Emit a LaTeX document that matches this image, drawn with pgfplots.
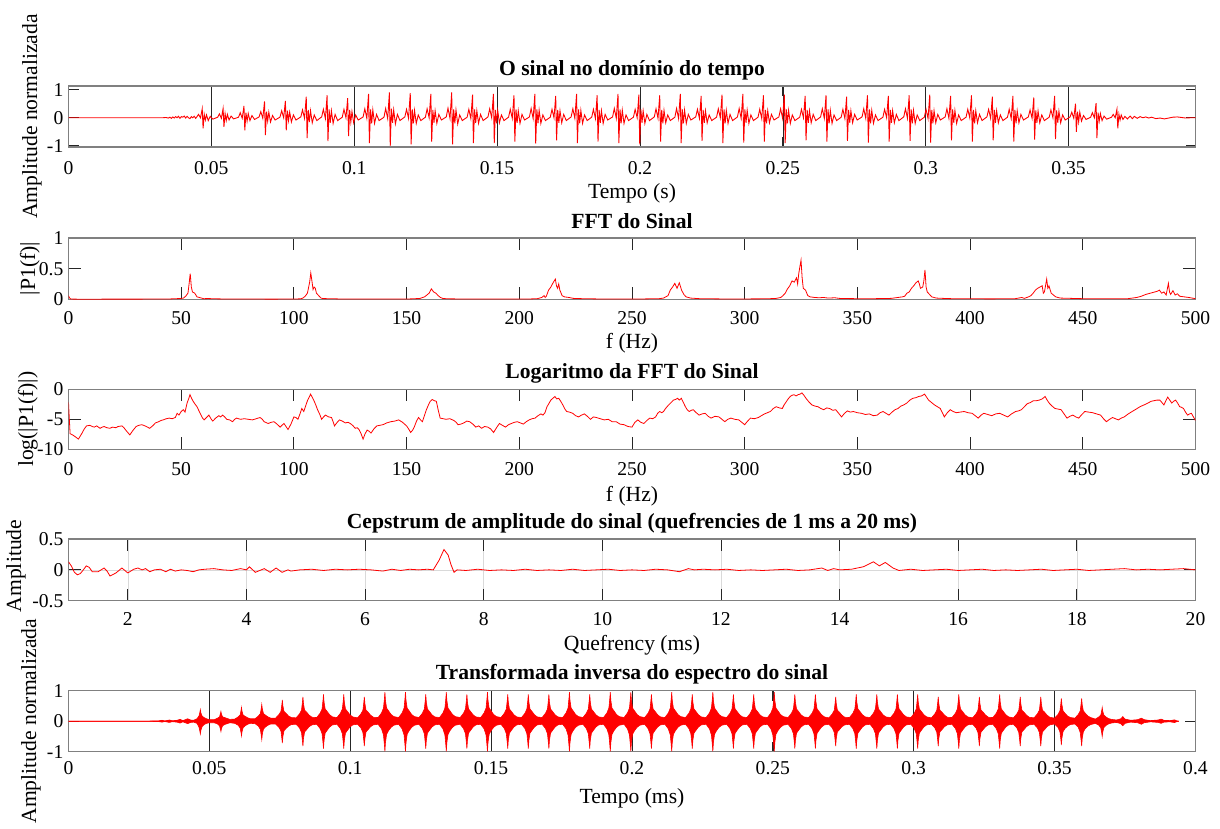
\documentclass[border=0pt]{standalone}
\usepackage{fontspec}
\setmainfont{Liberation Serif}
\usepackage{pgfplots}
\usepackage{pgfplotstable}
\pgfplotsset{compat=1.18}

\definecolor{boxgray}{RGB}{128,128,128}
\definecolor{sigred}{RGB}{255,0,0}

\newcommand\tickfont{\fontsize{19.6}{22}\selectfont}
\newcommand\labfont{\fontsize{21.6}{24}\selectfont}
\newcommand\titfont{\fontsize{21.6}{24}\selectfont\bfseries}

\pgfplotsset{
  panel/.style={
    scale only axis, width=1127pt, anchor=south west,
    axis line style={draw=boxgray, line width=1.4pt},
    tick style={draw=black!85, line width=0.8pt},
    major tick length=10pt, tick align=inside,
    xtick pos=both, ytick pos=both,
    tick label style={font=\tickfont},
    yticklabel style={inner sep=0pt, anchor=east, xshift=-5pt},
    xticklabel style={inner sep=0pt, anchor=north},
    xlabel={}, ylabel={},
  },
}

% inverse transform: time (ms), upper envelope, lower envelope
\pgfplotstableread{
x up lo
0 0.003 -0.003
28 0.003 -0.003
30 0.008 -0.008
32 0.012 -0.012
33.2 0.03 -0.03
34.2 0.01 -0.01
35.8 0.04 -0.04
36.8 0.015 -0.015
38.5 0.03 -0.03
39.6 0.06 -0.06
40.6 0.02 -0.02
42.3 0.08 -0.08
43.3 0.04 -0.04
44.4 0.03 -0.03
45.6 0.08 -0.07
46.3 0.17 -0.19
46.65 0.30 -0.34
46.8 0.38 -0.42
47.0 0.27 -0.29
47.4 0.17 -0.18
48.1 0.12 -0.11
49.0 0.08 -0.07
50.0 0.05 -0.05
51.7 0.05 -0.05
52.9 0.10 -0.09
53.6 0.14 -0.15
53.95 0.26 -0.27
54.1 0.32 -0.34
54.3 0.23 -0.24
54.7 0.14 -0.15
55.4 0.12 -0.11
56.3 0.09 -0.08
57.3 0.06 -0.05
59.0 0.07 -0.07
60.2 0.14 -0.13
60.9 0.20 -0.22
61.25 0.36 -0.38
61.4 0.45 -0.48
61.6 0.32 -0.34
62.0 0.20 -0.21
62.7 0.16 -0.15
63.6 0.11 -0.10
64.6 0.08 -0.07
66.2 0.08 -0.08
67.4 0.17 -0.16
68.1 0.25 -0.27
68.45 0.44 -0.48
68.6 0.55 -0.60
68.8 0.40 -0.42
69.2 0.25 -0.26
69.9 0.20 -0.19
70.8 0.14 -0.13
71.8 0.10 -0.09
73.5 0.10 -0.09
74.7 0.22 -0.20
75.4 0.32 -0.32
75.75 0.56 -0.58
75.9 0.70 -0.72
76.1 0.50 -0.50
76.5 0.32 -0.31
77.2 0.26 -0.24
78.1 0.17 -0.16
79.1 0.12 -0.11
80.8 0.11 -0.10
82.0 0.24 -0.22
82.7 0.36 -0.37
83.05 0.64 -0.66
83.2 0.80 -0.82
83.4 0.58 -0.57
83.8 0.36 -0.35
84.5 0.30 -0.28
85.4 0.20 -0.18
86.4 0.13 -0.12
88.1 0.12 -0.10
89.3 0.26 -0.24
90.0 0.40 -0.41
90.35 0.70 -0.72
90.5 0.88 -0.90
90.7 0.63 -0.63
91.1 0.40 -0.39
91.8 0.32 -0.30
92.7 0.21 -0.19
93.7 0.14 -0.12
95.3 0.12 -0.10
96.5 0.26 -0.24
97.2 0.40 -0.41
97.55 0.70 -0.72
97.7 0.88 -0.90
97.9 0.63 -0.63
98.3 0.40 -0.39
99.0 0.32 -0.30
99.9 0.21 -0.19
100.9 0.14 -0.12
102.6 0.11 -0.10
103.8 0.24 -0.22
104.5 0.36 -0.37
104.85 0.64 -0.66
105.0 0.80 -0.82
105.2 0.58 -0.57
105.6 0.36 -0.35
106.3 0.30 -0.28
107.2 0.20 -0.18
108.2 0.13 -0.12
109.9 0.12 -0.10
111.1 0.27 -0.25
111.8 0.43 -0.45
112.15 0.76 -0.80
112.3 0.95 -0.99
112.5 0.68 -0.70
112.9 0.43 -0.43
113.6 0.34 -0.31
114.5 0.22 -0.20
115.5 0.15 -0.13
117.2 0.12 -0.10
118.4 0.27 -0.25
119.1 0.43 -0.45
119.45 0.76 -0.80
119.6 0.95 -0.99
119.8 0.68 -0.70
120.2 0.43 -0.43
120.9 0.34 -0.31
121.8 0.22 -0.20
122.8 0.15 -0.13
124.4 0.12 -0.10
125.6 0.26 -0.24
126.3 0.40 -0.41
126.65 0.70 -0.72
126.8 0.88 -0.90
127.0 0.63 -0.63
127.4 0.40 -0.39
128.1 0.32 -0.30
129.0 0.21 -0.19
130.0 0.14 -0.12
131.7 0.12 -0.10
132.9 0.27 -0.25
133.6 0.43 -0.45
133.95 0.76 -0.80
134.1 0.95 -0.99
134.3 0.68 -0.70
134.7 0.43 -0.43
135.4 0.34 -0.31
136.3 0.22 -0.20
137.3 0.15 -0.13
139.0 0.12 -0.10
140.2 0.26 -0.24
140.9 0.40 -0.41
141.25 0.70 -0.72
141.4 0.88 -0.90
141.6 0.63 -0.63
142.0 0.40 -0.39
142.7 0.32 -0.30
143.6 0.21 -0.19
144.6 0.14 -0.12
146.3 0.12 -0.10
147.5 0.27 -0.25
148.2 0.43 -0.45
148.55 0.76 -0.80
148.7 0.95 -0.99
148.9 0.68 -0.70
149.3 0.43 -0.43
150.0 0.34 -0.31
150.9 0.22 -0.20
151.9 0.15 -0.13
153.5 0.12 -0.10
154.7 0.26 -0.24
155.4 0.40 -0.41
155.75 0.70 -0.72
155.9 0.88 -0.90
156.1 0.63 -0.63
156.5 0.40 -0.39
157.2 0.32 -0.30
158.1 0.21 -0.19
159.1 0.14 -0.12
160.8 0.12 -0.10
162.0 0.26 -0.24
162.7 0.40 -0.41
163.05 0.70 -0.72
163.2 0.88 -0.90
163.4 0.63 -0.63
163.8 0.40 -0.39
164.5 0.32 -0.30
165.4 0.21 -0.19
166.4 0.14 -0.12
168.1 0.12 -0.10
169.3 0.26 -0.24
170.0 0.40 -0.41
170.35 0.70 -0.72
170.5 0.88 -0.90
170.7 0.63 -0.63
171.1 0.40 -0.39
171.8 0.32 -0.30
172.7 0.21 -0.19
173.7 0.14 -0.12
175.4 0.12 -0.10
176.6 0.27 -0.25
177.3 0.43 -0.45
177.65 0.76 -0.80
177.8 0.95 -0.99
178.0 0.68 -0.70
178.4 0.43 -0.43
179.1 0.34 -0.31
180.0 0.22 -0.20
181.0 0.15 -0.13
182.6 0.12 -0.10
183.8 0.26 -0.24
184.5 0.40 -0.41
184.85 0.70 -0.72
185.0 0.88 -0.90
185.2 0.63 -0.63
185.6 0.40 -0.39
186.3 0.32 -0.30
187.2 0.21 -0.19
188.2 0.14 -0.12
189.9 0.12 -0.10
191.1 0.27 -0.25
191.8 0.43 -0.45
192.15 0.76 -0.80
192.3 0.95 -0.99
192.5 0.68 -0.70
192.9 0.43 -0.43
193.6 0.34 -0.31
194.5 0.22 -0.20
195.5 0.15 -0.13
197.2 0.12 -0.10
198.4 0.27 -0.25
199.1 0.43 -0.45
199.45 0.76 -0.80
199.6 0.95 -0.99
199.8 0.68 -0.70
200.2 0.43 -0.43
200.9 0.34 -0.31
201.8 0.22 -0.20
202.8 0.15 -0.13
204.5 0.12 -0.10
205.7 0.26 -0.24
206.4 0.40 -0.41
206.75 0.70 -0.72
206.9 0.88 -0.90
207.1 0.63 -0.63
207.5 0.40 -0.39
208.2 0.32 -0.30
209.1 0.21 -0.19
210.1 0.14 -0.12
211.7 0.12 -0.10
212.9 0.27 -0.25
213.6 0.43 -0.45
213.95 0.76 -0.80
214.1 0.95 -0.99
214.3 0.68 -0.70
214.7 0.43 -0.43
215.4 0.34 -0.31
216.3 0.22 -0.20
217.3 0.15 -0.13
219.0 0.12 -0.10
220.2 0.26 -0.24
220.9 0.40 -0.41
221.25 0.70 -0.72
221.4 0.88 -0.90
221.6 0.63 -0.63
222.0 0.40 -0.39
222.7 0.32 -0.30
223.6 0.21 -0.19
224.6 0.14 -0.12
226.3 0.12 -0.10
227.5 0.27 -0.25
228.2 0.43 -0.45
228.55 0.76 -0.80
228.7 0.95 -0.99
228.9 0.68 -0.70
229.3 0.43 -0.43
230.0 0.34 -0.31
230.9 0.22 -0.20
231.9 0.15 -0.13
233.6 0.12 -0.10
234.8 0.26 -0.24
235.5 0.40 -0.41
235.85 0.70 -0.72
236.0 0.88 -0.90
236.2 0.63 -0.63
236.6 0.40 -0.39
237.3 0.32 -0.30
238.2 0.21 -0.19
239.2 0.14 -0.12
240.8 0.12 -0.10
242.0 0.26 -0.24
242.7 0.40 -0.41
243.05 0.70 -0.72
243.2 0.88 -0.90
243.4 0.63 -0.63
243.8 0.40 -0.39
244.5 0.32 -0.30
245.4 0.21 -0.19
246.4 0.14 -0.12
248.1 0.12 -0.10
249.3 0.27 -0.25
250.0 0.43 -0.45
250.35 0.76 -0.80
250.5 0.95 -0.99
250.7 0.68 -0.70
251.1 0.43 -0.43
251.8 0.34 -0.31
252.7 0.22 -0.20
253.7 0.15 -0.13
255.4 0.12 -0.10
256.6 0.26 -0.24
257.3 0.40 -0.41
257.65 0.70 -0.72
257.8 0.88 -0.90
258.0 0.63 -0.63
258.4 0.40 -0.39
259.1 0.32 -0.30
260.0 0.21 -0.19
261.0 0.14 -0.12
262.7 0.12 -0.10
263.9 0.26 -0.24
264.6 0.40 -0.41
264.95 0.70 -0.72
265.1 0.88 -0.90
265.3 0.63 -0.63
265.7 0.40 -0.39
266.4 0.32 -0.30
267.3 0.21 -0.19
268.3 0.14 -0.12
269.9 0.11 -0.10
271.1 0.24 -0.22
271.8 0.36 -0.37
272.15 0.64 -0.66
272.3 0.80 -0.82
272.5 0.58 -0.57
272.9 0.36 -0.35
273.6 0.30 -0.28
274.5 0.20 -0.18
275.5 0.13 -0.12
277.2 0.12 -0.10
278.4 0.26 -0.24
279.1 0.40 -0.41
279.45 0.70 -0.72
279.6 0.88 -0.90
279.8 0.63 -0.63
280.2 0.40 -0.39
280.9 0.32 -0.30
281.8 0.21 -0.19
282.8 0.14 -0.12
284.5 0.12 -0.10
285.7 0.26 -0.24
286.4 0.40 -0.41
286.75 0.70 -0.72
286.9 0.88 -0.90
287.1 0.63 -0.63
287.5 0.40 -0.39
288.2 0.32 -0.30
289.1 0.21 -0.19
290.1 0.14 -0.12
291.8 0.12 -0.10
293.0 0.26 -0.24
293.7 0.40 -0.41
294.05 0.70 -0.72
294.2 0.88 -0.90
294.4 0.63 -0.63
294.8 0.40 -0.39
295.5 0.32 -0.30
296.4 0.21 -0.19
297.4 0.14 -0.12
299.0 0.12 -0.10
300.2 0.26 -0.24
300.9 0.40 -0.41
301.25 0.70 -0.72
301.4 0.88 -0.90
301.6 0.63 -0.63
302.0 0.40 -0.39
302.7 0.32 -0.30
303.6 0.21 -0.19
304.6 0.14 -0.12
306.3 0.11 -0.10
307.5 0.24 -0.22
308.2 0.36 -0.37
308.55 0.64 -0.66
308.7 0.80 -0.82
308.9 0.58 -0.57
309.3 0.36 -0.35
310.0 0.30 -0.28
310.9 0.20 -0.18
311.9 0.13 -0.12
313.6 0.12 -0.10
314.8 0.26 -0.24
315.5 0.40 -0.41
315.85 0.70 -0.72
316.0 0.88 -0.90
316.2 0.63 -0.63
316.6 0.40 -0.39
317.3 0.32 -0.30
318.2 0.21 -0.19
319.2 0.14 -0.12
320.9 0.11 -0.10
322.1 0.24 -0.22
322.8 0.36 -0.37
323.15 0.64 -0.66
323.3 0.80 -0.82
323.5 0.58 -0.57
323.9 0.36 -0.35
324.6 0.30 -0.28
325.5 0.20 -0.18
326.5 0.13 -0.12
328.1 0.12 -0.10
329.3 0.26 -0.24
330.0 0.40 -0.41
330.35 0.70 -0.72
330.5 0.88 -0.90
330.7 0.63 -0.63
331.1 0.40 -0.39
331.8 0.32 -0.30
332.7 0.21 -0.19
333.7 0.14 -0.12
335.4 0.11 -0.10
336.6 0.24 -0.22
337.3 0.36 -0.37
337.65 0.64 -0.66
337.8 0.80 -0.82
338.0 0.58 -0.57
338.4 0.36 -0.35
339.1 0.30 -0.28
340.0 0.20 -0.18
341.0 0.13 -0.12
342.7 0.11 -0.10
343.9 0.24 -0.22
344.6 0.36 -0.37
344.95 0.64 -0.66
345.1 0.80 -0.82
345.3 0.58 -0.57
345.7 0.36 -0.35
346.4 0.30 -0.28
347.3 0.20 -0.18
348.3 0.13 -0.12
350.0 0.10 -0.09
351.2 0.22 -0.20
351.9 0.34 -0.35
352.25 0.60 -0.62
352.4 0.75 -0.78
352.6 0.54 -0.55
353.0 0.34 -0.34
353.7 0.26 -0.24
354.6 0.17 -0.16
355.6 0.12 -0.11
357.2 0.10 -0.09
358.4 0.22 -0.20
359.1 0.34 -0.37
359.45 0.60 -0.66
359.6 0.75 -0.82
359.8 0.54 -0.57
360.2 0.34 -0.35
360.9 0.26 -0.24
361.8 0.17 -0.16
362.8 0.12 -0.11
364.5 0.07 -0.07
365.7 0.14 -0.13
366.4 0.20 -0.22
366.75 0.36 -0.40
366.9 0.45 -0.50
367.1 0.32 -0.35
367.5 0.20 -0.21
368.2 0.14 -0.14
369.1 0.09 -0.09
370.1 0.06 -0.06
372.0 0.04 -0.04
373.5 0.08 -0.08
374.2 0.15 -0.15
375.0 0.07 -0.07
377.0 0.03 -0.03
379.5 0.05 -0.05
380.8 0.10 -0.10
381.8 0.05 -0.05
384.0 0.02 -0.02
386.8 0.04 -0.04
387.8 0.07 -0.07
388.8 0.03 -0.03
391.0 0.02 -0.02
392.6 0.045 -0.045
393.4 0.01 -0.01
394.0 0.003 -0.003
}\invdata

\begin{document}
\begin{tikzpicture}
\useasboundingbox (0pt,0pt) rectangle (1220pt,-829pt);

% ---------- time signal ----------
\begin{axis}[panel, at={(68.5pt,-147pt)}, height=61pt,
  xmin=0, xmax=394.4, ymin=-1.04, ymax=1.13,
  xtick={0,50,100,150,200,250,300,350},
  xticklabels={0,0.05,0.1,0.15,0.2,0.25,0.3,0.35},
  ytick={-1,0,1}, yticklabels={-1,0,1},
  xticklabel style={yshift=-14.5pt},
  xmajorgrids, grid style={draw=black!85, line width=0.7pt}]
\addplot[sigred, line width=0.9pt] coordinates {
(0,0)(33,0)(34,0.01)(35,-0.01)(35.5,0.02)(36,-0.02)(36.5,0.03)(37,-0.01)(37.5,0.04)(38,0.0)(38.5,0.05)(39,-0.02)(39.5,0.04)(40,0.02)(40.5,0.06)(41,-0.01)(41.5,0.05)(42,0.0)(42.5,-0.03)(43,0.04)(43.5,0.0)(44,0.05)(44.5,-0.02)
(44.9,0.03)(45.5,0.12)(46.2,0.0)(46.8,0.32)(47.1,-0.38)(47.5,0.12)(47.9,-0.08)(48.3,0.1)(48.9,-0.1)(49.6,0.05)(50.5,-0.05)
(52.2,0.02)(52.8,0.14)(53.5,-0.02)(54.1,0.33)(54.4,-0.32)(54.8,0.15)(55.2,-0.1)(55.6,0.12)(56.2,-0.08)(56.9,0.06)(57.8,-0.04)
(59.5,0.02)(60.1,0.18)(60.8,-0.02)(61.4,0.42)(61.7,-0.45)(62.1,0.18)(62.5,-0.12)(62.9,0.15)(63.5,-0.1)(64.2,0.08)(65.1,-0.06)
(66.7,0.03)(67.3,0.22)(68.0,-0.02)(68.6,0.58)(68.9,-0.62)(69.3,0.22)(69.7,-0.12)(70.1,0.2)(70.7,-0.15)(71.4,0.08)(72.3,-0.08)
(74.0,0.02)(74.6,0.25)(75.3,0.0)(75.9,0.6)(76.2,-0.45)(76.6,0.25)(77.0,-0.1)(77.4,0.2)(78.0,-0.15)(78.7,0.1)(79.6,-0.08)
(81.3,0.03)(81.9,0.28)(82.6,-0.02)(83.2,0.75)(83.5,-0.72)(83.9,0.28)(84.3,-0.15)(84.7,0.25)(85.3,-0.18)(86.0,0.1)(86.9,-0.1)
(88.6,0.03)(89.2,0.3)(89.9,-0.03)(90.5,0.8)(90.8,-0.83)(91.2,0.3)(91.6,-0.18)(92.0,0.25)(92.6,-0.2)(93.3,0.12)(94.2,-0.1)
(95.8,0.02)(96.4,0.3)(97.1,0.0)(97.7,0.7)(98.0,-0.65)(98.4,0.28)(98.8,-0.15)(99.2,0.22)(99.8,-0.18)(100.5,0.1)(101.4,-0.08)
(103.1,0.03)(103.7,0.32)(104.4,-0.02)(105.0,0.85)(105.3,-0.9)(105.7,0.3)(106.1,-0.2)(106.5,0.28)(107.1,-0.2)(107.8,0.12)(108.7,-0.1)
(110.4,0.02)(111.0,0.33)(111.7,-0.03)(112.3,0.9)(112.6,-1.0)(113.0,0.32)(113.4,-0.18)(113.8,0.28)(114.4,-0.22)(115.1,0.12)(116.0,-0.1)
(117.7,0.03)(118.3,0.3)(119.0,-0.02)(119.6,0.88)(119.9,-0.95)(120.3,0.3)(120.7,-0.2)(121.1,0.26)(121.7,-0.2)(122.4,0.1)(123.3,-0.1)
(124.9,0.02)(125.5,0.32)(126.2,0.0)(126.8,0.85)(127.1,-0.85)(127.5,0.28)(127.9,-0.18)(128.3,0.25)(128.9,-0.2)(129.6,0.12)(130.5,-0.08)
(132.2,0.03)(132.8,0.34)(133.5,-0.02)(134.1,0.9)(134.4,-0.95)(134.8,0.3)(135.2,-0.2)(135.6,0.28)(136.2,-0.22)(136.9,0.1)(137.8,-0.1)
(139.5,0.02)(140.1,0.3)(140.8,-0.03)(141.4,0.82)(141.7,-0.9)(142.1,0.3)(142.5,-0.18)(142.9,0.25)(143.5,-0.2)(144.2,0.12)(145.1,-0.1)
(146.8,0.03)(147.4,0.32)(148.1,0.0)(148.7,0.85)(149.0,-0.9)(149.4,0.28)(149.8,-0.2)(150.2,0.26)(150.8,-0.18)(151.5,0.1)(152.4,-0.1)
(154.0,0.02)(154.6,0.3)(155.3,-0.02)(155.9,0.8)(156.2,-0.85)(156.6,0.3)(157.0,-0.18)(157.4,0.25)(158.0,-0.2)(158.7,0.12)(159.6,-0.08)
(161.3,0.03)(161.9,0.33)(162.6,-0.03)(163.2,0.85)(163.5,-0.92)(163.9,0.3)(164.3,-0.2)(164.7,0.27)(165.3,-0.2)(166.0,0.1)(166.9,-0.1)
(168.6,0.02)(169.2,0.3)(169.9,0.0)(170.5,0.78)(170.8,-0.8)(171.2,0.28)(171.6,-0.18)(172.0,0.25)(172.6,-0.18)(173.3,0.12)(174.2,-0.1)
(175.9,0.03)(176.5,0.32)(177.2,-0.02)(177.8,0.85)(178.1,-0.9)(178.5,0.3)(178.9,-0.2)(179.3,0.26)(179.9,-0.2)(180.6,0.1)(181.5,-0.1)
(183.1,0.02)(183.7,0.3)(184.4,-0.03)(185.0,0.8)(185.3,-0.85)(185.7,0.28)(186.1,-0.18)(186.5,0.25)(187.1,-0.2)(187.8,0.12)(188.7,-0.08)
(190.4,0.03)(191.0,0.33)(191.7,-0.02)(192.3,0.85)(192.6,-0.9)(193.0,0.3)(193.4,-0.2)(193.8,0.27)(194.4,-0.2)(195.1,0.1)(196.0,-0.1)
(197.7,0.02)(198.3,0.3)(199.0,0.0)(199.6,0.82)(199.9,-0.95)(200.3,0.3)(200.7,-0.18)(201.1,0.25)(201.7,-0.2)(202.4,0.12)(203.3,-0.1)
(205.0,0.03)(205.6,0.32)(206.3,-0.02)(206.9,0.8)(207.2,-0.85)(207.6,0.28)(208.0,-0.2)(208.4,0.26)(209.0,-0.18)(209.7,0.1)(210.6,-0.1)
(212.2,0.02)(212.8,0.33)(213.5,-0.03)(214.1,0.85)(214.4,-0.9)(214.8,0.3)(215.2,-0.2)(215.6,0.27)(216.2,-0.2)(216.9,0.12)(217.8,-0.08)
(219.5,0.03)(220.1,0.3)(220.8,-0.02)(221.4,0.78)(221.7,-0.82)(222.1,0.28)(222.5,-0.18)(222.9,0.25)(223.5,-0.18)(224.2,0.1)(225.1,-0.1)
(226.8,0.02)(227.4,0.32)(228.1,0.0)(228.7,0.82)(229.0,-0.9)(229.4,0.3)(229.8,-0.2)(230.2,0.26)(230.8,-0.2)(231.5,0.12)(232.4,-0.1)
(234.1,0.03)(234.7,0.33)(235.4,-0.02)(236.0,0.85)(236.3,-0.88)(236.7,0.3)(237.1,-0.18)(237.5,0.27)(238.1,-0.2)(238.8,0.1)(239.7,-0.1)
(241.3,0.02)(241.9,0.3)(242.6,-0.03)(243.2,0.8)(243.5,-0.85)(243.9,0.28)(244.3,-0.2)(244.7,0.25)(245.3,-0.18)(246.0,0.12)(246.9,-0.08)
(248.6,0.03)(249.2,0.32)(249.9,-0.02)(250.5,0.82)(250.8,-0.9)(251.2,0.3)(251.6,-0.2)(252.0,0.26)(252.6,-0.2)(253.3,0.1)(254.2,-0.1)
(255.9,0.02)(256.5,0.3)(257.2,0.0)(257.8,0.78)(258.1,-0.8)(258.5,0.28)(258.9,-0.18)(259.3,0.25)(259.9,-0.18)(260.6,0.12)(261.5,-0.1)
(263.2,0.03)(263.8,0.32)(264.5,-0.02)(265.1,0.8)(265.4,-0.85)(265.8,0.3)(266.2,-0.2)(266.6,0.26)(267.2,-0.2)(267.9,0.1)(268.8,-0.1)
(270.4,0.02)(271.0,0.3)(271.7,-0.03)(272.3,0.75)(272.6,-0.82)(273.0,0.28)(273.4,-0.18)(273.8,0.25)(274.4,-0.18)(275.1,0.12)(276.0,-0.08)
(277.7,0.03)(278.3,0.32)(279.0,-0.02)(279.6,0.8)(279.9,-0.88)(280.3,0.3)(280.7,-0.2)(281.1,0.26)(281.7,-0.2)(282.4,0.1)(283.3,-0.1)
(285.0,0.02)(285.6,0.3)(286.3,0.0)(286.9,0.78)(287.2,-0.85)(287.6,0.28)(288.0,-0.18)(288.4,0.25)(289.0,-0.18)(289.7,0.12)(290.6,-0.1)
(292.3,0.03)(292.9,0.32)(293.6,-0.02)(294.2,0.8)(294.5,-0.82)(294.9,0.3)(295.3,-0.2)(295.7,0.26)(296.3,-0.2)(297.0,0.1)(297.9,-0.1)
(299.5,0.02)(300.1,0.3)(300.8,-0.03)(301.4,0.82)(301.7,-0.88)(302.1,0.28)(302.5,-0.2)(302.9,0.25)(303.5,-0.18)(304.2,0.12)(305.1,-0.08)
(306.8,0.03)(307.4,0.32)(308.1,-0.02)(308.7,0.78)(309.0,-0.8)(309.4,0.3)(309.8,-0.18)(310.2,0.26)(310.8,-0.2)(311.5,0.1)(312.4,-0.1)
(314.1,0.02)(314.7,0.3)(315.4,0.0)(316.0,0.8)(316.3,-0.85)(316.7,0.28)(317.1,-0.2)(317.5,0.25)(318.1,-0.18)(318.8,0.12)(319.7,-0.1)
(321.4,0.03)(322.0,0.3)(322.7,-0.02)(323.3,0.75)(323.6,-0.8)(324.0,0.28)(324.4,-0.18)(324.8,0.25)(325.4,-0.18)(326.1,0.1)(327.0,-0.1)
(328.6,0.02)(329.2,0.3)(329.9,-0.03)(330.5,0.78)(330.8,-0.85)(331.2,0.28)(331.6,-0.2)(332.0,0.25)(332.6,-0.18)(333.3,0.12)(334.2,-0.08)
(335.9,0.03)(336.5,0.28)(337.2,-0.02)(337.8,0.72)(338.1,-0.78)(338.5,0.26)(338.9,-0.18)(339.3,0.24)(339.9,-0.18)(340.6,0.1)(341.5,-0.1)
(343.2,0.02)(343.8,0.28)(344.5,0.0)(345.1,0.78)(345.4,-0.76)(345.8,0.26)(346.2,-0.18)(346.6,0.24)(347.2,-0.18)(347.9,0.1)(348.8,-0.08)
(350.5,0.03)(351.1,0.2)(351.8,-0.02)(352.4,0.5)(352.7,-0.5)(353.1,0.22)(353.5,-0.15)(353.9,0.2)(354.5,-0.12)(355.2,0.08)(356.1,-0.06)
(357.7,0.02)(358.3,0.18)(359.0,0.0)(359.6,0.52)(359.9,-0.72)(360.3,0.18)(360.7,-0.12)(361.1,0.15)(361.7,-0.1)(362.4,0.06)(363.3,-0.05)
(365.0,0.02)(365.6,0.12)(366.3,0.0)(366.9,0.3)(367.2,-0.38)(367.6,0.12)(368.0,-0.08)(368.4,0.1)(369.0,-0.06)(369.7,0.05)(370.6,-0.04)
(371.5,0.06)(372.3,-0.03)(373.0,0.05)(374.0,-0.02)(375.0,0.04)(376.0,0.0)(377.0,0.03)(378.0,-0.01)(379.0,0.02)(380.5,-0.03)(382.0,-0.01)(383.5,-0.04)(385.0,-0.01)(386.5,0.02)(388.0,0.03)(389.5,0.01)(391.0,-0.01)(392.5,0.0)(394.4,0.0)
};
\end{axis}

% ---------- FFT magnitude ----------
\begin{axis}[panel, at={(68.5pt,-299.3pt)}, height=61.3pt,
  xmin=0, xmax=500, ymin=0, ymax=1,
  major tick length=12pt,
  xtick={0,50,100,150,200,250,300,350,400,450,500},
  xticklabels={0,50,100,150,200,250,300,350,400,450,500},
  ytick={0,0.5,1}, yticklabels={0,0.5,1},
  xticklabel style={yshift=-12.1pt}]
\addplot[sigred, line width=0.8pt] coordinates {
(0,0.06)(0.5,0.02)(1,0.005)(2,0.003)(5,0.002)(10,0.002)(20,0.003)(30,0.003)(40,0.004)(45,0.006)(48,0.01)(50,0.015)(51,0.02)(52,0.05)(53,0.1)(53.5,0.25)(54,0.42)(54.5,0.2)(55,0.12)(56,0.1)(57,0.04)(58,0.03)(59,0.02)(60,0.01)(62,0.012)(65,0.008)(70,0.005)(80,0.004)(90,0.003)(100,0.004)(103,0.008)(104,0.02)(105,0.05)(106,0.1)(107,0.28)(107.5,0.43)(108,0.3)(108.5,0.16)(109,0.2)(109.5,0.18)(110,0.1)(111,0.06)(112,0.02)(113,0.012)(115,0.01)(118,0.008)(120,0.006)(130,0.004)(140,0.004)(150,0.005)(153,0.008)(156,0.015)(158,0.04)(159,0.07)(160,0.1)(161,0.17)(162,0.12)(163,0.1)(164,0.06)(165,0.03)(166,0.015)(168,0.008)(175,0.005)(190,0.004)(200,0.005)(205,0.006)(208,0.01)(210,0.03)(211,0.06)(211.5,0.03)(212,0.05)(213,0.15)(214,0.2)(215,0.27)(216,0.33)(216.5,0.22)(217,0.18)(217.5,0.25)(218,0.15)(219,0.06)(220,0.04)(222,0.03)(224,0.015)(228,0.01)(235,0.006)(245,0.005)(255,0.006)(262,0.01)(264,0.02)(265,0.04)(266,0.06)(267,0.15)(268,0.2)(269,0.26)(270,0.18)(271,0.27)(272,0.15)(273,0.08)(274,0.04)(276,0.02)(280,0.01)(290,0.006)(300,0.006)(310,0.008)(314,0.015)(316,0.03)(317,0.06)(318,0.1)(319,0.17)(320,0.22)(321,0.3)(322,0.28)(323,0.35)(323.5,0.25)(324,0.42)(325,0.64)(325.5,0.35)(326,0.18)(327,0.15)(328,0.06)(329,0.04)(331,0.03)(333,0.025)(335,0.03)(337,0.02)(340,0.025)(342,0.015)(345,0.012)(350,0.01)(355,0.008)(360,0.012)(365,0.015)(368,0.03)(370,0.04)(371,0.05)(372,0.1)(373,0.12)(374,0.18)(375,0.22)(376,0.27)(377,0.3)(377.5,0.25)(378,0.18)(379,0.2)(379.5,0.3)(380,0.48)(380.5,0.2)(381,0.12)(382,0.08)(383,0.04)(385,0.02)(388,0.015)(392,0.01)(400,0.008)(410,0.007)(420,0.01)(423,0.03)(424,0.015)(426,0.04)(427,0.06)(428,0.1)(429,0.15)(430,0.18)(431,0.2)(432,0.22)(432.5,0.1)(433,0.12)(434,0.33)(434.5,0.18)(435,0.22)(436,0.1)(437,0.07)(438,0.04)(440,0.02)(445,0.015)(450,0.01)(460,0.008)(470,0.01)(474,0.03)(476,0.05)(478,0.08)(480,0.1)(482,0.12)(483,0.13)(484,0.15)(485,0.1)(486,0.12)(487,0.07)(488,0.26)(488.5,0.12)(489,0.08)(490,0.14)(491,0.07)(492,0.09)(493,0.05)(495,0.04)(497,0.03)(500,0.01)
};
\end{axis}

% ---------- log of the FFT ----------
\begin{axis}[panel, at={(68.5pt,-449.3pt)}, height=60pt,
  xmin=0, xmax=500, ymin=-10, ymax=0,
  major tick length=12pt,
  xtick={0,50,100,150,200,250,300,350,400,450,500},
  xticklabels={0,50,100,150,200,250,300,350,400,450,500},
  ytick={-10,-5,0}, yticklabels={-10,-5,0},
  xticklabel style={yshift=-13.1pt}]
\addplot[sigred, line width=0.8pt] coordinates {
(0,-2.2)(0.7,-7.4)(1.8,-7.6)(3,-7.9)(4.4,-8.3)(5.2,-7.8)(6,-7.3)(7,-6.6)(8,-6.1)(9.5,-6.0)(10.5,-6.2)(11.4,-6.3)(12.5,-6.1)(14,-6.5)(15,-6.3)(15.8,-6.2)(17,-6.4)(18.4,-6.5)(19.5,-6.3)(21,-6.4)(22,-6.2)(23.7,-6.1)(24.6,-6.4)(25.4,-6.8)(26.3,-7.2)(27.2,-7.6)(28.5,-6.9)(30,-6.2)(31.2,-6.0)(32.5,-5.9)(34,-6.1)(35,-6.3)(36,-6.5)(37.3,-6.1)(38.6,-5.6)(40,-5.4)(41,-5.2)(42,-5.1)(43.4,-4.9)(44.7,-4.8)(46,-4.9)(47.4,-4.7)(48.2,-4.0)(49,-4.3)(50,-3.7)(50.9,-3.4)(51.7,-3.8)(52.6,-2.3)(53.3,-1.6)(53.9,-0.9)(54.6,-1.5)(55.3,-2.0)(56.2,-2.5)(57,-2.9)(57.9,-3.6)(58.8,-4.3)(59.5,-4.8)(60.2,-5.1)(61.2,-4.7)(62.3,-4.3)(63.2,-4.9)(64,-5.3)(65.3,-4.8)(66.7,-4.4)(67.5,-4.6)(68.4,-4.3)(69.3,-4.6)(70.2,-5.0)(71.5,-5.1)(72.8,-5.4)(73.7,-5.0)(74.6,-4.8)(76.3,-5.0)(78,-4.9)(79.8,-5.0)(81.6,-5.1)(83.3,-4.9)(85,-4.7)(86,-5.0)(86.8,-5.4)(88.6,-5.7)(89.9,-5.5)(91.2,-5.4)(92.5,-5.8)(93.9,-6.3)(94.7,-6.0)(95.6,-5.7)(96.5,-6.2)(97.4,-6.7)(98.7,-5.8)(100,-4.6)(100.9,-4.7)(101.8,-5.0)(102.6,-4.2)(103.5,-3.2)(104.4,-3.7)(105.2,-2.8)(106.1,-1.8)(106.8,-1.3)(107.4,-0.8)(108.1,-1.3)(108.8,-1.8)(109.7,-2.6)(110.5,-3.4)(111.4,-4.1)(112.3,-5.0)(113.2,-4.6)(114,-4.3)(115.4,-4.6)(116.7,-4.7)(117.4,-5.4)(118,-6.1)(119,-5.6)(120.2,-5.1)(121.5,-5.3)(122.8,-5.6)(124.1,-5.5)(125.4,-5.8)(126.3,-6.1)(127.2,-6.5)(128.1,-6.4)(128.9,-6.7)(129.8,-7.4)(130.7,-8.3)(131.6,-7.4)(132.5,-6.8)(133.4,-7.0)(134.2,-7.3)(135.5,-6.6)(136.8,-6.1)(138.1,-6.0)(139.5,-5.9)(141.2,-5.6)(143,-5.4)(144.7,-5.3)(146.5,-5.1)(148.2,-5.5)(150,-6.1)(150.9,-6.6)(151.8,-7.2)(152.7,-6.8)(153.5,-6.2)(154.4,-5.3)(155.3,-4.7)(156.2,-5.1)(157,-5.4)(157.9,-4.4)(158.8,-3.4)(159.7,-2.6)(160.5,-2.0)(161.4,-1.7)(162.3,-1.9)(163.2,-2.0)(164,-3.4)(164.9,-4.8)(166.2,-4.9)(167.5,-5.0)(169.2,-4.9)(171,-5.2)(172,-5.5)(172.8,-5.9)(174.1,-5.8)(175.4,-5.6)(176.7,-5.3)(178,-5.4)(179.4,-5.8)(180.7,-6.3)(182,-6.1)(183.3,-6.5)(184.6,-6.2)(186,-6.3)(187.3,-6.6)(188.6,-7.2)(189.9,-6.4)(191.2,-5.7)(192.5,-6.0)(193.9,-6.3)(195.2,-5.9)(196.5,-5.7)(197.8,-5.5)(199.1,-5.4)(200.5,-5.6)(201.8,-5.8)(203.1,-5.4)(204.4,-5.1)(205.7,-4.9)(207,-4.8)(208.3,-4.4)(209.6,-4.1)(210.5,-4.3)(211.4,-3.9)(212.3,-2.9)(213.1,-2.4)(214,-1.8)(214.9,-1.5)(215.8,-1.2)(216.6,-1.6)(217.5,-1.5)(218.4,-2.0)(219.3,-2.6)(220.1,-3.2)(221,-3.7)(222.3,-3.8)(223.7,-4.0)(225,-4.4)(226.3,-4.6)(227.6,-4.3)(228.9,-4.1)(230.2,-4.5)(231.6,-5.0)(232.9,-4.6)(234.2,-4.7)(235.9,-4.9)(237.7,-5.1)(239.5,-5.0)(241.2,-5.4)(243,-5.4)(244.7,-5.8)(246.5,-5.9)(248.2,-6.2)(250,-6.3)(251.3,-5.5)(252.6,-5.1)(253.9,-5.5)(255.3,-5.7)(256.6,-5.2)(257.9,-4.8)(259.2,-4.9)(260.5,-4.6)(261.4,-4.0)(262.3,-3.7)(263.2,-3.9)(264,-3.7)(264.9,-3.2)(265.8,-2.8)(267.1,-2.3)(268.4,-1.8)(269.3,-1.7)(270.2,-1.5)(271,-1.8)(271.9,-1.5)(272.8,-2.2)(273.7,-2.9)(274.5,-3.4)(275.4,-3.7)(276.3,-3.5)(277.2,-3.4)(278.5,-3.9)(279.8,-4.3)(281.1,-4.1)(282.5,-4.0)(283.8,-4.5)(285.1,-4.8)(286.8,-4.5)(288.6,-4.6)(289.9,-5.0)(291.2,-5.4)(292.5,-5.0)(293.9,-4.8)(295.6,-5.0)(297.4,-5.1)(298.7,-5.5)(300,-5.9)(301.3,-5.3)(302.6,-4.8)(304.3,-4.9)(306.1,-4.7)(307.4,-4.4)(308.8,-4.1)(310.1,-3.9)(311.4,-3.7)(312.7,-3.2)(314,-2.9)(315.4,-3.1)(316.7,-3.2)(317.5,-2.6)(318.4,-2.1)(319.3,-1.6)(320.2,-1.2)(321,-1.0)(321.9,-0.9)(322.8,-1.1)(323.7,-0.9)(324.6,-0.8)(325.4,-0.6)(326.3,-1.0)(327.2,-1.5)(328.5,-2.1)(329.8,-2.6)(331.2,-2.8)(332.5,-2.9)(333.8,-3.2)(335.1,-3.4)(336.4,-3.1)(337.7,-3.2)(339.1,-3.5)(340.4,-3.4)(341.7,-4.0)(343,-4.6)(344.3,-4.0)(345.6,-3.6)(346.9,-3.8)(348.2,-3.7)(350,-3.9)(351.8,-4.0)(353.6,-4.2)(355.3,-4.1)(357.1,-4.4)(358.8,-4.3)(360.1,-3.9)(361.4,-3.7)(362.7,-4.0)(364,-4.3)(365.4,-3.8)(366.7,-3.4)(368,-3.2)(369.3,-2.8)(370.6,-2.6)(371.9,-2.3)(373.3,-1.8)(374.6,-1.5)(375.9,-1.4)(377.2,-1.2)(378.5,-1.1)(379.8,-0.8)(380.7,-1.3)(381.6,-1.8)(382.9,-2.2)(384.2,-2.6)(385.5,-2.9)(386.8,-3.2)(387.7,-3.9)(388.6,-4.6)(389.9,-3.9)(391.2,-3.4)(392.5,-3.7)(393.9,-3.9)(395.6,-3.8)(397.4,-3.7)(399.1,-3.9)(400.9,-4.0)(402.3,-4.4)(403.6,-4.8)(404.9,-4.3)(406.1,-4.0)(407.9,-4.2)(409.6,-4.4)(411.4,-4.1)(413.2,-4.0)(414.9,-4.3)(416.7,-4.6)(418.4,-4.1)(420.2,-3.7)(421.5,-3.6)(422.8,-3.4)(424.1,-2.9)(425.4,-2.4)(426.8,-2.2)(428.1,-1.9)(429.4,-1.9)(430.7,-1.8)(432,-1.6)(433.3,-1.2)(434.2,-1.8)(435.1,-2.3)(436.4,-2.8)(437.7,-3.2)(439.1,-3.3)(440.4,-3.4)(441.7,-4.1)(443,-4.8)(444.3,-4.5)(445.6,-4.3)(446.9,-4.6)(448.2,-4.8)(449.6,-4.2)(450.9,-3.7)(452.6,-3.8)(454.4,-3.9)(456.1,-4.1)(457.9,-4.3)(459.2,-4.9)(460.5,-5.4)(461.9,-5.0)(463.2,-4.7)(464.5,-4.9)(465.8,-5.1)(467.1,-4.8)(468.4,-4.6)(470.2,-4.1)(471.9,-3.7)(473.7,-3.3)(475.4,-2.9)(477.2,-2.6)(478.9,-2.3)(480.3,-2.0)(481.6,-1.9)(482.9,-1.8)(484.2,-1.8)(485.1,-2.2)(486,-2.6)(486.9,-1.9)(487.7,-1.3)(488.6,-1.8)(489.5,-2.3)(490.3,-2.0)(491.2,-1.8)(492.1,-2.3)(493,-2.9)(493.8,-3.0)(494.7,-3.2)(495.6,-3.8)(496.5,-4.3)(497.4,-4.1)(498.2,-4.0)(499.1,-4.6)(500,-5.2)
};
\end{axis}

% ---------- amplitude cepstrum ----------
\begin{axis}[panel, at={(68.5pt,-600.7pt)}, height=61.7pt,
  xmin=1, xmax=20, ymin=-0.5, ymax=0.5,
  major tick length=12pt,
  xtick={2,4,6,8,10,12,14,16,18,20},
  xticklabels={2,4,6,8,10,12,14,16,18,20},
  ytick={-0.5,0,0.5}, yticklabels={-0.5,0,0.5},
  xticklabel style={yshift=-11.7pt},
  xmajorgrids, ymajorgrids, grid style={draw=black!15, line width=0.6pt}]
\addplot[sigred, line width=0.8pt] coordinates {
(1.0,0.13)(1.05,0.06)(1.1,-0.04)(1.15,-0.08)(1.2,-0.06)(1.25,0.0)(1.3,0.065)(1.35,0.04)(1.4,-0.03)(1.5,-0.03)(1.6,0.03)(1.65,-0.02)(1.7,-0.1)(1.8,-0.05)(1.9,0.03)(2.0,-0.05)(2.1,0.01)(2.17,0.03)(2.24,0.0)(2.3,0.02)(2.37,-0.03)(2.45,0.0)(2.55,0.01)(2.64,-0.03)(2.72,0.01)(2.8,-0.02)(2.9,0.0)(3.0,-0.01)(3.1,-0.03)(3.2,0.0)(3.3,0.01)(3.45,0.02)(3.6,0.0)(3.75,-0.01)(3.9,0.02)(4.0,0.0)(4.05,0.05)(4.15,-0.04)(4.25,0.0)(4.3,0.02)(4.4,-0.04)(4.5,0.03)(4.6,-0.04)(4.7,0.0)(4.75,-0.02)(4.9,0.0)(5.1,0.01)(5.3,-0.01)(5.5,0.01)(5.7,0.0)(5.9,0.01)(6.1,0.0)(6.3,-0.02)(6.45,0.01)(6.6,-0.01)(6.75,0.01)(6.9,0.0)(7.05,0.01)(7.15,0.0)(7.25,0.16)(7.33,0.33)(7.4,0.24)(7.45,0.08)(7.5,-0.04)(7.55,0.0)(7.7,-0.01)(7.9,0.01)(8.1,-0.01)(8.3,0.0)(8.5,-0.01)(8.7,0.01)(8.9,-0.01)(9.1,0.0)(9.3,-0.01)(9.5,0.01)(9.7,-0.01)(9.9,0.0)(10.1,0.01)(10.3,-0.01)(10.5,0.0)(10.7,-0.01)(10.9,0.01)(11.1,0.0)(11.3,-0.03)(11.45,0.02)(11.55,0.0)(11.7,0.01)(11.9,0.0)(12.1,0.01)(12.3,-0.01)(12.5,0.0)(12.7,-0.01)(12.9,0.0)(13.1,0.01)(13.3,-0.01)(13.5,0.0)(13.7,0.03)(13.8,-0.01)(13.9,0.02)(14.0,0.0)(14.2,0.01)(14.4,0.05)(14.57,0.13)(14.67,0.065)(14.77,0.12)(14.9,0.03)(15.0,-0.01)(15.2,0.01)(15.4,-0.01)(15.6,0.0)(15.8,0.01)(16.0,-0.01)(16.2,0.0)(16.4,0.01)(16.6,-0.01)(16.8,0.0)(17.0,-0.01)(17.2,0.0)(17.4,0.01)(17.6,-0.01)(17.8,0.0)(18.0,0.01)(18.2,-0.01)(18.4,0.0)(18.6,0.01)(18.8,0.02)(19.0,0.0)(19.2,0.01)(19.4,0.0)(19.6,0.01)(19.8,0.02)(20.0,0.0)
};
\end{axis}

% ---------- inverse transform of the spectrum ----------
\begin{axis}[panel, at={(68.5pt,-751.7pt)}, height=61pt,
  xmin=0, xmax=400, ymin=-1, ymax=1,
  xtick={0,50,100,150,200,250,300,350,400},
  xticklabels={0,0.05,0.1,0.15,0.2,0.25,0.3,0.35,0.4},
  ytick={-1,0,1}, yticklabels={-1,0,1},
  xticklabel style={yshift=-9.2pt},
  xmajorgrids, grid style={draw=black!85, line width=0.7pt}]
% upper and lower envelopes, each filled to the zero line
\addplot[sigred, fill=sigred, line width=0.6pt] table[x=x, y=up] {\invdata} \closedcycle;
\addplot[sigred, fill=sigred, line width=0.6pt] table[x=x, y=lo] {\invdata} \closedcycle;
\end{axis}

% ---------- titles ----------
\node[anchor=base, font=\titfont] at (632pt,-75.5pt) {O sinal no domínio do tempo};
\node[anchor=base, font=\titfont] at (632pt,-228pt) {FFT do Sinal};
\node[anchor=base, font=\titfont] at (632pt,-378pt) {Logaritmo da FFT do Sinal};
\node[anchor=base, font=\titfont] at (632pt,-528pt) {Cepstrum de amplitude do sinal (quefrencies de 1 ms a 20 ms)};
\node[anchor=base, font=\titfont] at (632pt,-679pt) {Transformada inversa do espectro do sinal};

% ---------- x labels ----------
\node[anchor=base, font=\labfont] at (632pt,-199pt) {Tempo (s)};
\node[anchor=base, font=\labfont] at (632pt,-348pt) {f (Hz)};
\node[anchor=base, font=\labfont] at (632pt,-501pt) {f (Hz)};
\node[anchor=base, font=\labfont] at (632pt,-650pt) {Quefrency (ms)};
\node[anchor=base, font=\labfont] at (632pt,-803pt) {Tempo (ms)};

% ---------- y labels ----------
\node[anchor=base, rotate=90, font=\labfont] at (37pt,-116.5pt) {Amplitude normalizada};
\node[anchor=base, rotate=90, font=\labfont] at (35pt,-268.6pt) {|P1(f)|};
\node[anchor=base, rotate=90, font=\labfont] at (33pt,-419.3pt) {log(|P1(f)|)};
\node[anchor=base, rotate=90, font=\labfont] at (21pt,-566pt) {Amplitude};
\node[anchor=base, rotate=90, font=\labfont] at (36pt,-721.2pt) {Amplitude normalizada};
\end{tikzpicture}
\end{document}
